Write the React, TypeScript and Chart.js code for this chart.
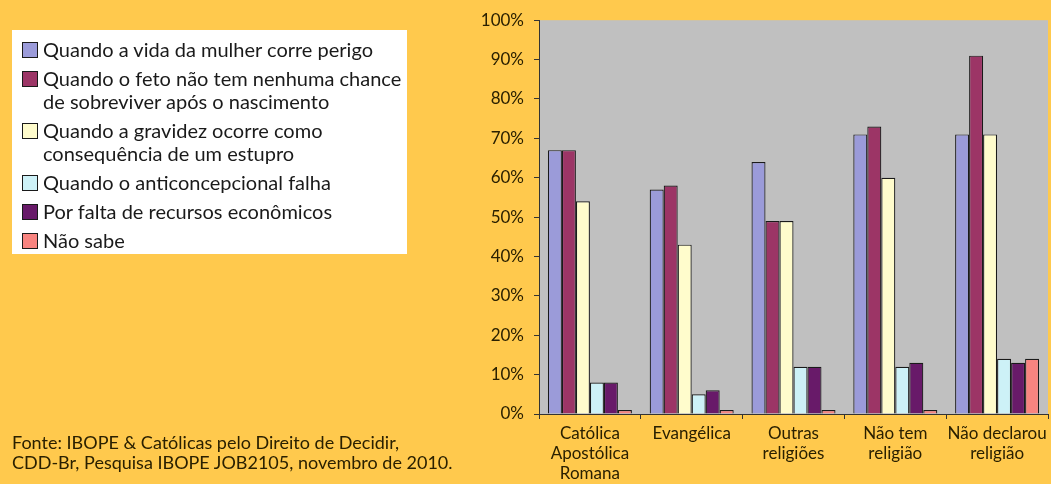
import React, { useEffect, useRef } from 'react';
import { Chart, registerables } from 'chart.js';
Chart.register(...registerables);

const categories = [
  ['Católica', 'Apostólica', 'Romana'],
  'Evangélica',
  ['Outras', 'religiões'],
  ['Não tem', 'religião'],
  ['Não declarou', 'religião'],
];
const seriesNames = [
  ['Quando a vida da mulher corre perigo'],
  ['Quando o feto não tem nenhuma chance', 'de sobreviver após o nascimento'],
  ['Quando a gravidez ocorre como', 'consequência de um estupro'],
  ['Quando o anticoncepcional falha'],
  ['Por falta de recursos econômicos'],
  ['Não sabe'],
];
const vidaMulher = [67, 57, 64, 71, 71];
const fetoSemChance = [67, 58, 49, 73, 91];
const estupro = [54, 43, 49, 60, 71];
const anticoncepcional = [8, 5, 12, 12, 14];
const faltaRecursos = [8, 6, 12, 13, 13];
const naoSabe = [1, 1, 1, 1, 14];
const yTickStep = 10;
const yMax = 100;
const sourceLines = [
  'Fonte: IBOPE & Católicas pelo Direito de Decidir,',
  'CDD-Br, Pesquisa IBOPE JOB2105, novembro de 2010.',
];

const seriesValues = [vidaMulher, fetoSemChance, estupro, anticoncepcional, faltaRecursos, naoSabe];
const seriesColors = ['#9b9bd9', '#9c3566', '#fffccc', '#cdf1f7', '#681a69', '#f88480'];

const BG = '#ffc94d';
const TEXT = '#2a2000';
const FONT = 'Lato, "Open Sans", sans-serif';

const plotBg = {
  id: 'plotBg',
  beforeDraw(chart: any) {
    const { ctx, chartArea } = chart;
    ctx.save();
    ctx.fillStyle = '#c0c0c0';
    ctx.fillRect(chartArea.left, chartArea.top, chartArea.right - chartArea.left, chartArea.bottom - chartArea.top);
    ctx.restore();
  },
};

export default function App() {
  const ref = useRef<HTMLCanvasElement>(null);
  useEffect(() => {
    document.body.style.margin = '0';
    const chart = new Chart(ref.current!, {
      type: 'bar',
      data: {
        labels: categories as any,
        datasets: seriesValues.map((vals, i) => ({
          label: seriesNames[i].join(' '),
          data: vals,
          backgroundColor: seriesColors[i],
          borderColor: '#1a1a1a',
          borderWidth: 1.2,
          categoryPercentage: 0.825,
          barPercentage: 1,
        })),
      },
      options: {
        responsive: false,
        animation: false,
        devicePixelRatio: 1,
        layout: { padding: { left: 479, top: 18, right: 3, bottom: 0 } },
        plugins: { legend: { display: false }, tooltip: { enabled: false } },
        scales: {
          x: {
            grid: { display: true, drawOnChartArea: false, drawTicks: true, tickLength: 5, color: '#333', offset: true },
            border: { color: '#333', width: 1 },
            ticks: { color: TEXT, font: { family: FONT, size: 17, lineHeight: 1.2 }, padding: 4, maxRotation: 0, autoSkip: false },
            afterFit: (s: any) => { s.height = 70; },
          },
          y: {
            min: 0,
            max: yMax,
            ticks: { stepSize: yTickStep, color: TEXT, font: { family: FONT, size: 17 }, padding: 10, callback: (v: any) => v + '%' },
            grid: { display: true, drawOnChartArea: false, drawTicks: true, tickLength: 5, color: '#333' },
            border: { color: '#333', width: 1 },
            afterFit: (s: any) => { s.width = 60; },
          },
        },
      },
      plugins: [plotBg],
    });
    return () => chart.destroy();
  }, []);

  return (
    <div style={{ position: 'fixed', left: 0, top: 0, width: 1051, height: 484, background: BG, overflow: 'hidden', fontFamily: FONT }}>
      <canvas ref={ref} width={1051} height={484} style={{ position: 'absolute', left: 0, top: 0, width: 1051, height: 484 }} />
      <div style={{ position: 'absolute', left: 12, top: 30, width: 395, height: 224, background: '#fff' }}>
        <div style={{ position: 'absolute', left: 10, top: 8 }}>
          {seriesNames.map((lines, i) => (
            <div key={i} style={{ display: 'flex', alignItems: 'flex-start', marginBottom: 6 }}>
              <div style={{ width: 14, height: 14, marginTop: 4, marginRight: 5, background: seriesColors[i], border: '1.5px solid #1a1a1a', flexShrink: 0 }} />
              <div style={{ fontSize: 20, lineHeight: '23px', color: '#1a1a1a' }}>
                {lines.map((l, j) => (<div key={j}>{l}</div>))}
              </div>
            </div>
          ))}
        </div>
      </div>
      <div style={{ position: 'absolute', left: 12, top: 432, fontSize: 18, lineHeight: '20px', color: TEXT }}>
        {sourceLines.map((l, i) => (<div key={i}>{l}</div>))}
      </div>
    </div>
  );
}
